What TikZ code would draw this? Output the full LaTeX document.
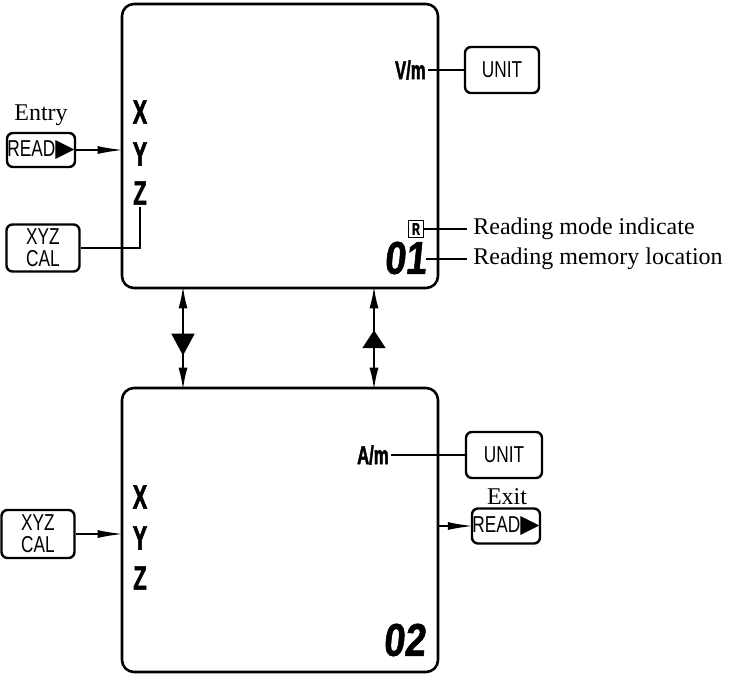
\documentclass[tikz,border=0pt]{standalone}
\usepackage{fontspec}
\setmainfont{Liberation Serif}
\newfontfamily\lcdfont[FakeStretch=0.75]{Liberation Sans}
\newfontfamily\segfont[FakeStretch=0.64,FakeBold=1.6]{Liberation Sans}
\newfontfamily\digfont[FakeStretch=0.82,FakeSlant=0.1,FakeBold=1.2]{Liberation Sans}
\newfontfamily\symfont{DejaVu Sans}
\usetikzlibrary{arrows.meta,decorations.markings}
\newcommand{\playtri}{{\symfont\fontsize{12.5}{12}\selectfont\char"25B6}}

\begin{document}
\begin{tikzpicture}[x=0.5pt,y=-0.5pt,
  display/.style={draw, line width=1.3pt, rounded corners=6pt,
    minimum width=158pt, minimum height=142pt},
  key/.style={draw, line width=1.2pt, rounded corners=3pt, inner sep=0pt,
    align=center, font=\lcdfont\fontsize{11.5}{11}\selectfont},
  axislbl/.style={inner sep=1pt, font=\segfont\bfseries\fontsize{17}{17}\selectfont},
  unitlbl/.style={inner sep=1pt, font=\segfont\bfseries\fontsize{13}{13}\selectfont},
  memdigits/.style={inner sep=0pt, font=\digfont\bfseries\fontsize{23}{23}\selectfont},
  note/.style={inner sep=3pt, font=\fontsize{12}{14}\selectfont},
  wire/.style={line width=1pt},
  feed/.style={line width=1pt, -{Latex[length=13pt,width=4pt]}, shorten >=-1.5pt},
  swap/.style={line width=1pt,
    {Latex[length=11pt,width=4.5pt]}-{Latex[length=11pt,width=4.5pt]},
    shorten <=-1.5pt, shorten >=-1.5pt, postaction={decorate}},
]
  \useasboundingbox (0,0) rectangle (734,675);

  % the two display screens
  \node[display] (disp1) at (280,146) {};
  \node[display] (disp2) at (280,530) {};

  % upper screen
  \node[axislbl] (x1) at (140,112) {X};
  \node[axislbl] (y1) at (140,154) {Y};
  \node[axislbl] (z1) at (140,193) {Z};
  \node[unitlbl, anchor=east] (vm) at (428,70) {V/m};
  \node[key, minimum width=37pt, minimum height=23pt] (unit1) at (502,70) {UNIT};
  \node[key, minimum width=34pt, minimum height=17pt] (read1) at (41,150) {READ\playtri};
  \node[note] (entry) at (41,115) {Entry};
  \node[key, minimum width=36.5pt, minimum height=23.5pt] (cal1) at (43,248) {XYZ\\CAL};
  \node[draw, line width=0.7pt, inner sep=0.8pt, minimum width=7.5pt, minimum height=8.5pt,
    font=\segfont\bfseries\fontsize{8.5}{8}\selectfont] (rmode) at (416,229) {R};
  \node[memdigits] (mem1) at (405,258) {01};
  \node[note, anchor=west] (modelbl) at (467,229) {Reading mode indicate};
  \node[note, anchor=west] (memlbl) at (467,259) {Reading memory location};

  \draw[wire] (vm) -- (unit1);
  \draw[feed] (read1.east) -- (read1.east -| disp1.west);
  \draw[wire] (cal1.east) -| (z1.south);
  \draw[wire] (rmode) -- (modelbl);
  \draw[wire] (mem1.east |- memlbl) -- (memlbl);

  % lower screen
  \node[axislbl] (x2) at (140,497) {X};
  \node[axislbl] (y2) at (140,538) {Y};
  \node[axislbl] (z2) at (140,578) {Z};
  \node[unitlbl, anchor=east] (am) at (391,455) {A/m};
  \node[key, minimum width=38pt, minimum height=23pt] (unit2) at (504,455) {UNIT};
  \node[key, minimum width=36.5pt, minimum height=24pt] (cal2) at (38,534) {XYZ\\CAL};
  \node[key, minimum width=34pt, minimum height=17.5pt] (read2) at (506,526) {READ\playtri};
  \node[note] (exit) at (507,497) {Exit};
  \node[memdigits] (mem2) at (404,640) {02};

  \draw[wire] (am) -- (unit2);
  \draw[feed] (cal2.east) -- (cal2.east -| disp2.west);
  \draw[feed] (read2.west -| disp2.east) -- (read2.west);

  % switching between the screens
  \coordinate (down) at (183,338);
  \coordinate (up) at (374,338);
  \draw[swap, decoration={markings,
      mark=at position 0.68 with {\arrow{Triangle[length=11pt,width=11.5pt]}}}]
    (down |- disp1.south) -- (down |- disp2.north);
  \draw[swap, decoration={markings,
      mark=at position 0.42 with {\arrowreversed{Triangle[length=9pt,width=11.5pt]}}}]
    (up |- disp1.south) -- (up |- disp2.north);
\end{tikzpicture}
\end{document}
